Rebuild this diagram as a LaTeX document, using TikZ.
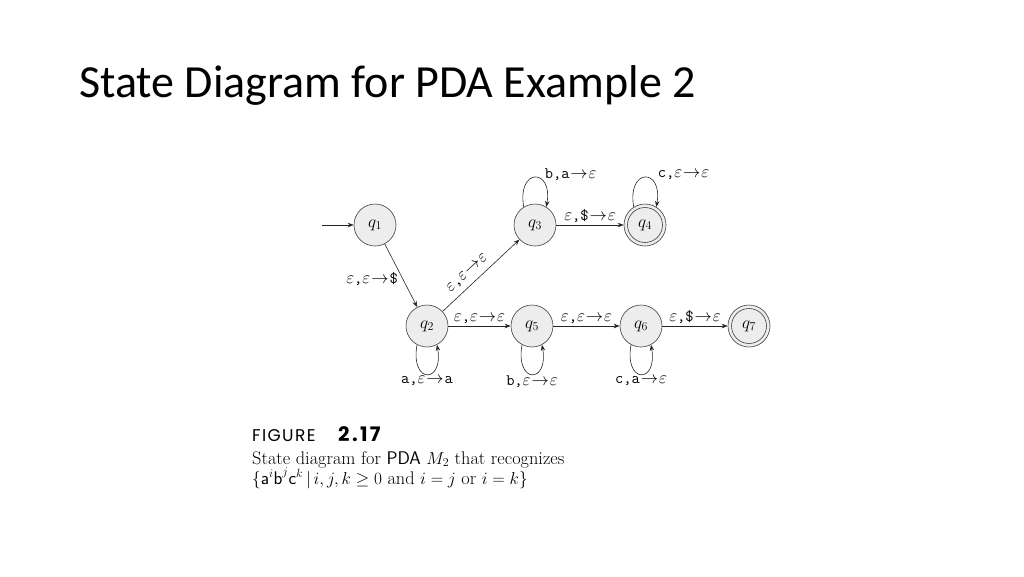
\documentclass[tikz,border=0pt]{standalone}
\usepackage{fontspec}
\newfontfamily\titlefont{Carlito}
\newfontfamily\figfont{Poppins}
\usetikzlibrary{arrows.meta}
\begin{document}
\begin{tikzpicture}[x=1pt,y=-1pt,
  stnode/.style={circle, draw=black!75, fill=black!7, minimum size=42pt, inner sep=0pt, line width=0.6pt, font=\fontsize{18}{20}\selectfont},
  edge/.style={draw=black!85, line width=0.6pt, -{Stealth[length=6pt,width=4.5pt]}},
  lab/.style={font=\fontsize{16}{18}\selectfont, inner sep=1.5pt},
  captxt/.style={font=\fontsize{18.3}{21}\selectfont, anchor=base west, inner sep=0pt}
]
\useasboundingbox (0,0) rectangle (1024,576);
\fill[white] (0,0) rectangle (1024,576);
\node[anchor=base west, inner sep=0pt, font=\titlefont\fontsize{46}{52}\selectfont] (title) at (79,97) {State Diagram for PDA Example 2};

\newcommand{\tl}[1]{\texttt{#1}}
\newcommand{\cm}{\texttt{,}}
\newcommand{\ar}{\mkern1mu{\to}\mkern1mu}

\node[stnode] (q1) at (375,225) {$q_1$};
\node[stnode] (q3) at (535,225) {$q_3$};
\node[stnode] (q4) at (645,225) {$q_4$};
\node[stnode] (q2) at (427,326) {$q_2$};
\node[stnode] (q5) at (532,326) {$q_5$};
\node[stnode] (q6) at (641,326) {$q_6$};
\node[stnode] (q7) at (749,326) {$q_7$};
\draw[draw=black!75, line width=0.6pt] (q4.center) circle (17.5pt);
\draw[draw=black!75, line width=0.6pt] (q7.center) circle (17.5pt);

\coordinate (start) at (322,225);
\draw[edge] (start) -- (q1);
\draw[edge] (q1) -- node[lab, pos=0.55, left=3pt] {$\varepsilon\cm\varepsilon\ar\tl{\$}$} (q2);
\draw[edge] (q2) -- node[lab, pos=0.42, above=4pt, sloped] {$\varepsilon\cm\varepsilon\ar\varepsilon$} (q3);
\draw[edge] (q3) -- node[lab, midway, above] {$\varepsilon\cm\tl{\$}\ar\varepsilon$} (q4);
\draw[edge] (q2) -- node[lab, midway, above] {$\varepsilon\cm\varepsilon\ar\varepsilon$} (q5);
\draw[edge] (q5) -- node[lab, midway, above] {$\varepsilon\cm\varepsilon\ar\varepsilon$} (q6);
\draw[edge] (q6) -- node[lab, midway, above] {$\varepsilon\cm\tl{\$}\ar\varepsilon$} (q7);

\draw[edge] (q3.122) .. controls +(-100:40) and +(-80:40) .. node[lab, pos=0.5, anchor=west, xshift=8pt, yshift=3pt] {$\tl{b}\cm\tl{a}\ar\varepsilon$} (q3.58);
\draw[edge] (q4.122) .. controls +(-100:40) and +(-80:40) .. node[lab, pos=0.5, anchor=west, xshift=11pt, yshift=3pt] {$\tl{c}\cm\varepsilon\ar\varepsilon$} (q4.58);
\draw[edge] (q2.242) .. controls +(100:40) and +(80:40) .. node[lab, pos=0.5, below] {$\tl{a}\cm\varepsilon\ar\tl{a}$} (q2.298);
\draw[edge] (q5.242) .. controls +(100:40) and +(80:40) .. node[lab, pos=0.5, below] {$\tl{b}\cm\varepsilon\ar\varepsilon$} (q5.298);
\draw[edge] (q6.242) .. controls +(100:40) and +(80:40) .. node[lab, pos=0.5, below] {$\tl{c}\cm\tl{a}\ar\varepsilon$} (q6.298);

\node[anchor=base west, inner sep=0pt, font=\figfont\fontsize{17}{19}\selectfont\addfontfeature{LetterSpace=8}] (fig) at (252,441) {FIGURE};
\node[anchor=base west, inner sep=0pt, font=\figfont\bfseries\fontsize{20}{22}\selectfont\addfontfeature{LetterSpace=12}] (num) at (338,441) {2.17};
\node[captxt] (cap1) at (252,464) {State diagram for {\sffamily PDA} $M_2$ that recognizes};
\node[captxt] (cap2) at (252,484) {$\{\textsf{a}^i\textsf{b}^j\textsf{c}^k\,|\, i,j,k\geq 0$ and $i=j$ or $i=k\}$};
\end{tikzpicture}
\end{document}
